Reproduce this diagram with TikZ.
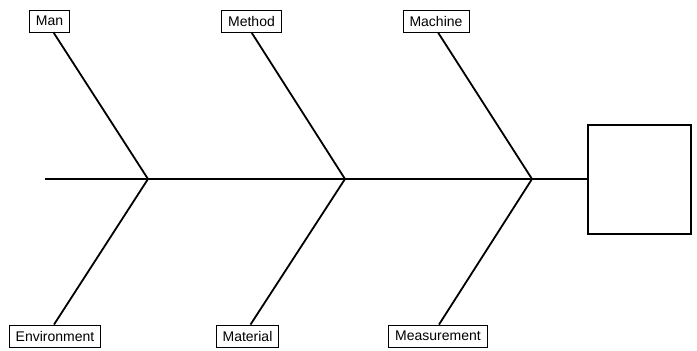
\documentclass[tikz,border=0pt]{standalone}
\usepackage{fontspec}
\setmainfont{Liberation Sans}
\usetikzlibrary{positioning}

\begin{document}
\begin{tikzpicture}[x=1bp,y=1bp,
  cause/.style={draw=black,line width=0.9bp,fill=white,inner xsep=6.5bp,inner ysep=0bp,
    minimum height=22bp,font=\fontsize{14bp}{16bp}\selectfont},
  effect/.style={draw=black,line width=2bp,minimum width=103bp,minimum height=109bp,inner sep=0pt},
  bone/.style={line width=1.8bp}
]
\useasboundingbox (0,0) rectangle (697,350);

% head and spine
\node[effect] (effect) at (639.5,171) {};
\coordinate (tail) at (45,171);
\coordinate (j1) at (148,171);
\coordinate (j2) at (345,171);
\coordinate (j3) at (532,171);
\draw[bone] (tail) -- (effect.west);

% causes
\node[cause] (man) at (49.5,329) {Man};
\node[cause] (method) at (251.5,329) {Method};
\node[cause] (machine) at (436,329) {Machine};
\node[cause] (environment) at (55,14) {Environment};
\node[cause] (material) at (247.5,14) {Material};
\node[cause] (measurement) at (438,14) {Measurement};

\draw[bone] ([xshift=4bp]man.south) -- (j1) -- ([xshift=-1bp]environment.north);
\draw[bone] (method.south) -- (j2) -- ([xshift=3bp]material.north);
\draw[bone] ([xshift=2bp]machine.south) -- (j3) -- ([xshift=1bp]measurement.north);
\end{tikzpicture}
\end{document}
